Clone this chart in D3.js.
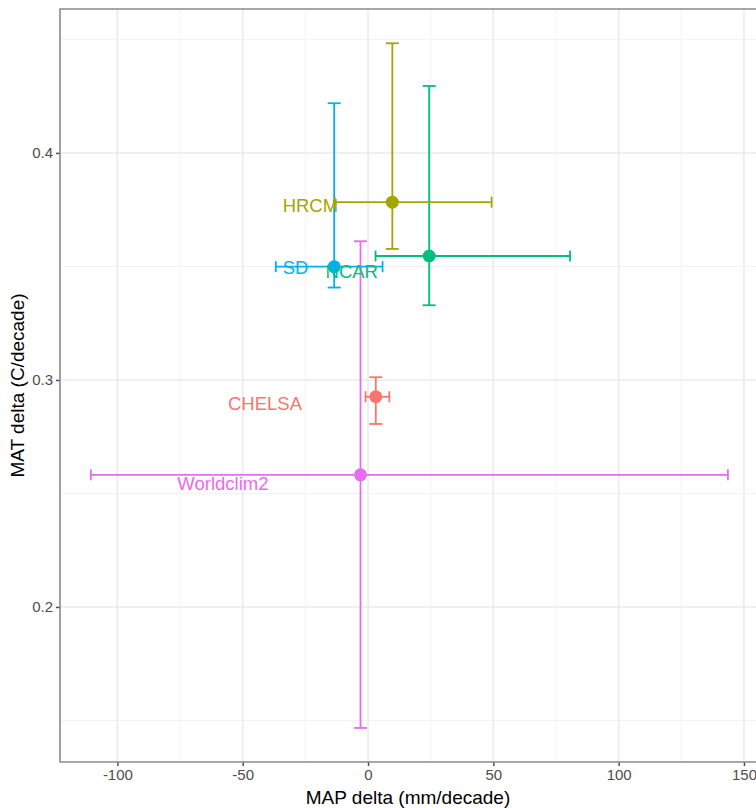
<!DOCTYPE html>
<html>
<head>
<meta charset="utf-8">
<script src="https://cdn.jsdelivr.net/npm/d3@7/dist/d3.min.js"></script>
<style>
  html, body { margin: 0; padding: 0; background: #fff; }
  svg { display: block; font-family: "Liberation Sans", Arial, sans-serif; }
</style>
</head>
<body>
<svg id="chart" width="756" height="808"></svg>
<script>
// ---- data ----
const models   = ["CHELSA", "HRCM", "NCAR", "SD", "Worldclim2"];
const colors   = ["#F8766D", "#A3A500", "#00BF7D", "#00B0F6", "#E76BF3"];
const mapDelta = [3.1, 9.7, 24.4, -13.5, -3.0];
const mapLo    = [-1.0, -13.3, 3.0, -36.8, -110.6];
const mapHi    = [8.5, 49.3, 80.6, 5.8, 143.6];
const matDelta = [0.2926, 0.3783, 0.3546, 0.3499, 0.2582];
const matLo    = [0.2806, 0.3577, 0.3329, 0.3407, 0.1467];
const matHi    = [0.3012, 0.4483, 0.4295, 0.4219, 0.3611];
const labelX   = [-41.1, -23.0, -6.5, -28.9, -57.9];
const labelY   = [0.2899, 0.3771, 0.3477, 0.3495, 0.2546];
const xTicks   = [-100, -50, 0, 50, 100, 150];
const xMinor   = [-125, -75, -25, 25, 75, 125];
const yTicks   = [0.2, 0.3, 0.4];
const yMinor   = [0.15, 0.25, 0.35, 0.45];
const xTitle   = "MAP delta (mm/decade)";
const yTitle   = "MAT delta (C/decade)";

const rows = models.map((m, i) => ({
  name: m, color: colors[i],
  x: mapDelta[i], xlo: mapLo[i], xhi: mapHi[i],
  y: matDelta[i], ylo: matLo[i], yhi: matHi[i],
  lx: labelX[i], ly: labelY[i]
}));

// ---- layout ----
const L = 60, T = 9, R = 756, B = 762;
const svg = d3.select("#chart");

const x = d3.scaleLinear().domain([-122.9, 154.8]).range([L, R]);
const y = d3.scaleLinear().domain([0.1317, 0.4634]).range([B, T]);

// panel background
svg.append("rect").attr("x", L).attr("y", T).attr("width", R - L + 4).attr("height", B - T)
  .attr("fill", "#fff");

const grid = svg.append("g");
// minor grid
grid.selectAll("line.xm").data(xMinor.filter(v => x(v) > L)).join("line")
  .attr("x1", d => x(d)).attr("x2", d => x(d)).attr("y1", T).attr("y2", B)
  .attr("stroke", "#f3f3f3").attr("stroke-width", 1);
grid.selectAll("line.ym").data(yMinor).join("line")
  .attr("y1", d => y(d)).attr("y2", d => y(d)).attr("x1", L).attr("x2", R + 4)
  .attr("stroke", "#f3f3f3").attr("stroke-width", 1);
// major grid
grid.selectAll("line.xM").data(xTicks).join("line")
  .attr("x1", d => x(d)).attr("x2", d => x(d)).attr("y1", T).attr("y2", B)
  .attr("stroke", "#ebebeb").attr("stroke-width", 1.6);
grid.selectAll("line.yM").data(yTicks).join("line")
  .attr("y1", d => y(d)).attr("y2", d => y(d)).attr("x1", L).attr("x2", R + 4)
  .attr("stroke", "#ebebeb").attr("stroke-width", 1.6);

// axes
const xAxis = d3.axisBottom(x).tickValues(xTicks).tickSize(4).tickPadding(3).tickFormat(d3.format("d"));
const yAxis = d3.axisLeft(y).tickValues(yTicks).tickSize(4).tickPadding(3).tickFormat(d3.format(".1f"));

const gx = svg.append("g").attr("transform", `translate(0,${B})`).call(xAxis);
const gy = svg.append("g").attr("transform", `translate(${L},0)`).call(yAxis);
[gx, gy].forEach(g => {
  g.select(".domain").remove();
  g.selectAll(".tick line").attr("stroke", "#4d4d4d").attr("stroke-width", 1.5);
  g.selectAll(".tick text").attr("fill", "#4d4d4d").style("font-size", "15px")
    .style("font-family", "'Liberation Sans', Arial, sans-serif");
});
gx.selectAll(".tick text").text(d => d < 0 ? "-" + Math.abs(d) : d);

// panel border (top, left, bottom)
svg.append("path")
  .attr("d", `M${R + 4},${T} H${L} V${B} H${R + 4}`)
  .attr("fill", "none").attr("stroke", "#8a8a8a").attr("stroke-width", 1.6);

// ---- marks ----
const capW = 6.5, capH = 5.5, sw = 1.8;
const marks = svg.append("g");

// vertical error bars
const vb = marks.append("g").selectAll("g").data(rows).join("g")
  .attr("stroke", d => d.color).attr("stroke-width", sw).attr("fill", "none");
vb.append("line").attr("x1", d => x(d.x)).attr("x2", d => x(d.x))
  .attr("y1", d => y(d.yhi)).attr("y2", d => y(d.ylo));
vb.append("line").attr("x1", d => x(d.x) - capW).attr("x2", d => x(d.x) + capW)
  .attr("y1", d => y(d.yhi)).attr("y2", d => y(d.yhi));
vb.append("line").attr("x1", d => x(d.x) - capW).attr("x2", d => x(d.x) + capW)
  .attr("y1", d => y(d.ylo)).attr("y2", d => y(d.ylo));

// horizontal error bars
const hb = marks.append("g").selectAll("g").data(rows).join("g")
  .attr("stroke", d => d.color).attr("stroke-width", sw).attr("fill", "none");
hb.append("line").attr("x1", d => x(d.xlo)).attr("x2", d => x(d.xhi))
  .attr("y1", d => y(d.y)).attr("y2", d => y(d.y));
hb.append("line").attr("x1", d => x(d.xlo)).attr("x2", d => x(d.xlo))
  .attr("y1", d => y(d.y) - capH).attr("y2", d => y(d.y) + capH);
hb.append("line").attr("x1", d => x(d.xhi)).attr("x2", d => x(d.xhi))
  .attr("y1", d => y(d.y) - capH).attr("y2", d => y(d.y) + capH);

// points
marks.append("g").selectAll("circle").data(rows).join("circle")
  .attr("cx", d => x(d.x)).attr("cy", d => y(d.y)).attr("r", 6.5)
  .attr("fill", d => d.color);

// labels
marks.append("g").selectAll("text").data(rows).join("text")
  .attr("x", d => x(d.lx)).attr("y", d => y(d.ly)).attr("dy", "0.36em")
  .attr("text-anchor", "middle").attr("fill", d => d.color)
  .style("font-size", "18.5px").text(d => d.name);

// axis titles
svg.append("text").attr("x", (L + R) / 2).attr("y", 797).attr("dy", "0.35em")
  .attr("text-anchor", "middle").attr("fill", "#000").style("font-size", "19px").text(xTitle);
svg.append("text").attr("transform", `translate(17,${(T + B) / 2}) rotate(-90)`).attr("dy", "0.35em")
  .attr("text-anchor", "middle").attr("fill", "#000").style("font-size", "19px").text(yTitle);
</script>
</body>
</html>
